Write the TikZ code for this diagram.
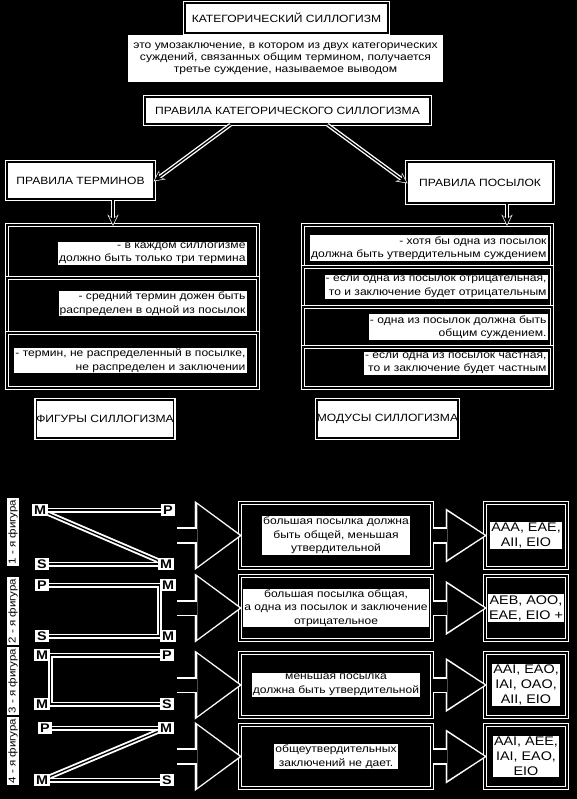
\documentclass[tikz,border=0pt]{standalone}
\usepackage{fontspec}
\setmainfont{Liberation Sans}[FakeStretch=1.15]
\usetikzlibrary{arrows.meta}

\begin{document}
\begin{tikzpicture}[x=1pt, y=-1pt,
		hd/.style = {rectangle, fill=white, draw=white, double=black, line width=1.4pt, double distance=1.4pt, inner sep=0pt, font=\fontsize{10.5}{12}\selectfont},
		df/.style = {rectangle, fill=white, inner sep=0pt, align=center, font=\fontsize{10.5}{12}\selectfont},
		fr/.style = {rectangle, fill=black, draw=white, double=black, line width=1.4pt, double distance=1.2pt, inner sep=0pt},
		tx/.style = {fill=white, inner sep=1pt, font=\fontsize{10.5}{13.5}\selectfont},
		md/.style = {fill=white, inner sep=1pt, align=center, font=\fontsize{12.5}{15}\selectfont},
		lt/.style = {fill=white, inner sep=2pt, font=\bfseries\fontsize{12.5}{12.5}\selectfont},
		vl/.style = {fill=white, inner sep=1.5pt, rotate=90, font=\fontsize{10}{10}\selectfont},
		fl/.style = {draw=black, line width=1.3pt, preaction={draw=white, line width=5pt}},
		ar/.style = {draw=black, line width=1.3pt, -{Stealth[length=8pt, width=8pt]}, preaction={draw=white, line width=4pt, shorten >=-1.5pt, -{Stealth[length=11pt, width=11pt]}}},
		bg/.style = {draw=black, line width=13pt, -{Triangle[length=42pt, width=62pt, line width=0.1pt]}, preaction={draw=white, line width=16.5pt, shorten >=-2.5pt, -{Triangle[length=47pt, width=69pt, line width=0.1pt]}}},
		bs/.style = {draw=black, line width=13pt, -{Triangle[length=37pt, width=48pt, line width=0.1pt]}, preaction={draw=white, line width=16.5pt, shorten >=-2.5pt, -{Triangle[length=41pt, width=54pt, line width=0.1pt]}}}
		]
		
		\useasboundingbox (0,0) rectangle (577,799);
		\fill[black] (0,0) rectangle (577,799);
		
		\node[df, minimum width=315pt, minimum height=47pt]	(def)	at	(285.5, 59)	{это умозаключение, в котором из двух категорических\\суждений, связанных общим термином, получается\\третье суждение, называемое выводом};
		\node[hd, minimum width=203pt, minimum height=30pt]	(title)	at	(286.5, 18)	{КАТЕГОРИЧЕСКИЙ СИЛЛОГИЗМ};
		\node[hd, minimum width=285pt, minimum height=27pt]	(rules)	at	(287.5, 110.5)	{ПРАВИЛА КАТЕГОРИЧЕСКОГО СИЛЛОГИЗМА};
		
		\node[hd, minimum width=147pt, minimum height=37pt]	(terms)	at	(80.5, 180.5)	{ПРАВИЛА ТЕРМИНОВ};
		\node[hd, minimum width=146pt, minimum height=41pt]	(prem)	at	(480, 182.5)	{ПРАВИЛА ПОСЫЛОК};
		\draw[ar]	([xshift=-57pt]rules.south)	--	(terms.east);
		\draw[ar]	([xshift=40pt]rules.south)	--	(prem.west);
		
		\node[fr, minimum width=251pt, minimum height=53pt]	(l1)	at	(132.5, 251.5)	{};
		\node[fr, minimum width=251pt, minimum height=55pt]	(l2)	at	(132.5, 305.5)	{};
		\node[fr, minimum width=251pt, minimum height=55pt]	(l3)	at	(132.5, 360.5)	{};
		\node[tx, anchor=east, align=right]	(tl1)	at	([xshift=-12pt, yshift=-2pt]l1.east)	{- в каждом силлогизме\\должно быть только три термина};
		\node[tx, anchor=east, align=right]	(tl2)	at	([xshift=-12pt, yshift=2pt]l2.east)	{- средний термин дожен быть\\распределен в одной из посылок};
		\node[tx, anchor=east, align=right]	(tl3)	at	([xshift=-12pt]l3.east)	{- термин, не распределенный в посылке,\\не распределен и заключении};
		\draw[ar]	([xshift=32.5pt]terms.south)	--	([xshift=-19.5pt]l1.north);
		
		\node[fr, minimum width=249pt, minimum height=42pt]	(p1)	at	(427.5, 246)	{};
		\node[fr, minimum width=249pt, minimum height=40pt]	(p2)	at	(427.5, 287)	{};
		\node[fr, minimum width=249pt, minimum height=40pt]	(p3)	at	(427.5, 327)	{};
		\node[fr, minimum width=249pt, minimum height=41pt]	(p4)	at	(427.5, 367.5)	{};
		\node[tx, anchor=east, align=right]	(tp1)	at	([xshift=-5pt, yshift=-2pt]p1.east)	{- хотя бы одна из посылок\\должна быть утвердительным суждением};
		\node[tx, anchor=east, align=right]	(tp2)	at	([xshift=-5pt]p2.east)	{- если одна из посылок отрицательная,\\то и заключение будет отрицательным};
		\node[tx, anchor=east, align=right]	(tp3)	at	([xshift=-5pt]p3.east)	{- одна из посылок должна быть\\общим суждением.};
		\node[tx, anchor=east, align=right]	(tp4)	at	([xshift=-5pt, yshift=4pt]p4.east)	{- если одна из посылок частная,\\то и заключение будет частным};
		\draw[ar]	([xshift=27pt]prem.south)	--	([xshift=79.5pt]p1.north);
		
		\node[hd, minimum width=136pt, minimum height=38pt]	(fig)	at	(105, 419)	{ФИГУРЫ СИЛЛОГИЗМА};
		\node[hd, minimum width=139pt, minimum height=38pt]	(mods)	at	(387.5, 419)	{МОДУСЫ СИЛЛОГИЗМА};
		
		\node[vl]	(n1)	at	(13, 532)	{1 - я фигура};
		\node[vl]	(n2)	at	(13, 611)	{2 - я фигура};
		\node[vl]	(n3)	at	(13, 681)	{3 - я фигура};
		\node[vl]	(n4)	at	(13, 751)	{4 - я фигура};
		
		\node[lt]	(a1)	at	(40, 510)	{M};
		\node[lt]	(b1)	at	(168, 510)	{P};
		\node[lt]	(c1)	at	(42, 564)	{S};
		\node[lt]	(d1)	at	(166, 564)	{M};
		\draw[fl]	(a1)	--	(b1);
		\draw[fl]	(a1)	--	(d1);
		\draw[fl]	(c1)	--	(d1);
		
		\node[lt]	(a2)	at	(42, 585)	{P};
		\node[lt]	(b2)	at	(168, 585)	{M};
		\node[lt]	(c2)	at	(42, 636)	{S};
		\node[lt]	(d2)	at	(168, 636)	{M};
		\draw[fl]	(a2)	--	(b2.west)	--	(d2.west)	--	(c2);
		
		\node[lt]	(a3)	at	(42, 655)	{M};
		\node[lt]	(b3)	at	(167, 655)	{P};
		\node[lt]	(c3)	at	(42, 704)	{M};
		\node[lt]	(d3)	at	(167, 704)	{S};
		\draw[fl]	(b3)	--	(a3.east)	--	(c3.east)	--	(d3);
		
		\node[lt]	(a4)	at	(45, 728)	{P};
		\node[lt]	(b4)	at	(166, 728)	{M};
		\node[lt]	(c4)	at	(42, 780)	{M};
		\node[lt]	(d4)	at	(167, 780)	{S};
		\draw[fl]	(a4)	--	(b4);
		\draw[fl]	(b4)	--	(c4);
		\draw[fl]	(c4)	--	(d4);
		
		\node[fr, minimum width=192pt, minimum height=65pt]	(m1)	at	(336, 535.5)	{};
		\node[fr, minimum width=192pt, minimum height=64pt]	(m2)	at	(336, 608)	{};
		\node[fr, minimum width=192pt, minimum height=64pt]	(m3)	at	(336, 685)	{};
		\node[fr, minimum width=192pt, minimum height=63pt]	(m4)	at	(336, 756.5)	{};
		\node[tx, align=center]	(tm1)	at	(m1)	{большая посылка должна\\быть общей, меньшая\\утвердительной};
		\node[tx, align=center]	(tm2)	at	(m2)	{большая посылка общая,\\а одна из посылок и заключение\\отрицательное};
		\node[tx, align=center]	(tm3)	at	(m3)	{меньшая посылка\\должна быть утвердительной};
		\node[tx, align=center]	(tm4)	at	(m4)	{общеутвердительных\\заключений не дает.};
		
		\node[fr, minimum width=82pt, minimum height=65pt]	(r1)	at	(526, 535.5)	{};
		\node[fr, minimum width=82pt, minimum height=64pt]	(r2)	at	(526, 608)	{};
		\node[fr, minimum width=82pt, minimum height=64pt]	(r3)	at	(526, 685)	{};
		\node[fr, minimum width=82pt, minimum height=63pt]	(r4)	at	(526, 756.5)	{};
		\node[md]	(tr1)	at	(r1)	{AAA, EAE,\\AII, EIO};
		\node[md]	(tr2)	at	(r2)	{AEB, AOO,\\EAE, EIO +};
		\node[md]	(tr3)	at	(r3)	{AAI, EAO,\\IAI, OAO,\\AII, EIO};
		\node[md]	(tr4)	at	(r4)	{AAI, AEE,\\IAI, EAO,\\EIO};
		
		\coordinate	(k1)	at	(177, 535.5);
		\coordinate	(k2)	at	(177, 608);
		\coordinate	(k3)	at	(177, 685);
		\coordinate	(k4)	at	(177, 756.5);
		\draw[bg]	(k1)	--	(m1.west);
		\draw[bg]	(k2)	--	(m2.west);
		\draw[bg]	(k3)	--	(m3.west);
		\draw[bg]	(k4)	--	(m4.west);
		\draw[bs]	(m1.east)	--	(r1.west);
		\draw[bs]	(m2.east)	--	(r2.west);
		\draw[bs]	(m3.east)	--	(r3.west);
		\draw[bs]	(m4.east)	--	(r4.west);
\end{tikzpicture}
\end{document}
